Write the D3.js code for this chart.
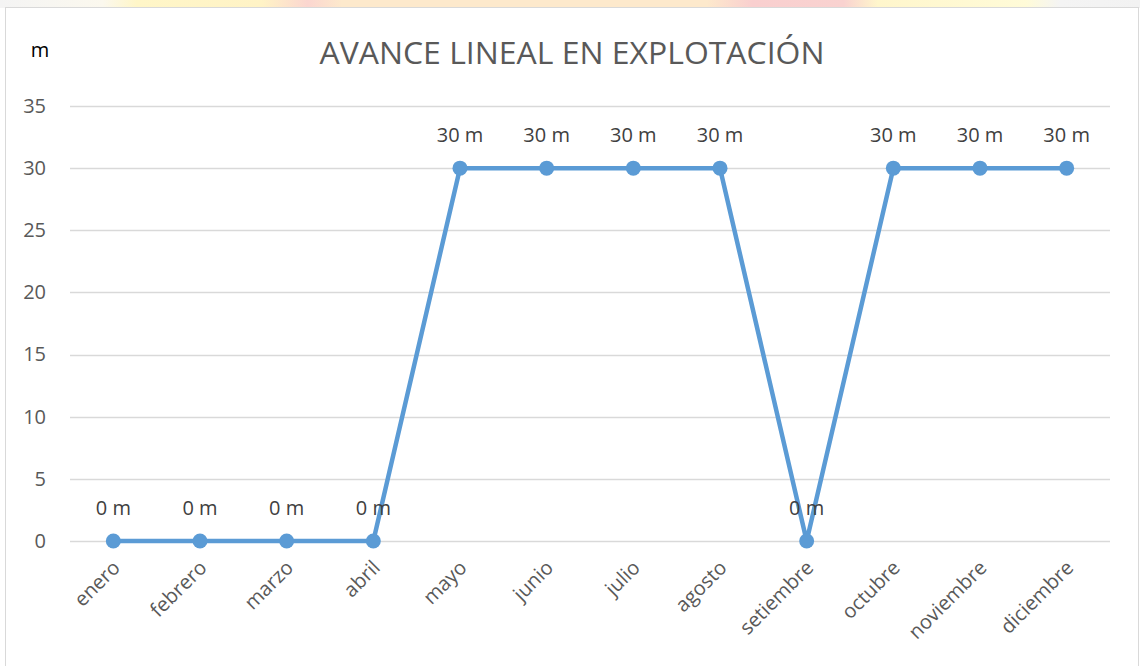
<!DOCTYPE html>
<html>
<head>
<meta charset="utf-8">
<script src="https://cdn.jsdelivr.net/npm/d3@7"></script>
<style>
  html, body { margin: 0; padding: 0; background: #fff; }
  svg { display: block; }
</style>
</head>
<body>
<svg id="chart" width="1140" height="666"></svg>
<script>
// Monthly linear advance (metres)
const months = ["enero", "febrero", "marzo", "abril", "mayo", "junio", "julio",
                "agosto", "setiembre", "octubre", "noviembre", "diciembre"];
const advance = [0, 0, 0, 0, 30, 30, 30, 30, 0, 30, 30, 30];
const yTicks = [0, 5, 10, 15, 20, 25, 30, 35];
const titleText = "AVANCE LINEAL EN EXPLOTACIÓN";
const unitText = "m";

const svg = d3.select("#chart");
const W = 1140, H = 666;
const font = "'Open Sans', 'Liberation Sans', sans-serif";

// faint band of the page behind the chart frame
const defs = svg.append("defs");
const band = defs.append("linearGradient").attr("id", "band");
[[0, "#f4f4f4"], [0.09, "#fbf8ee"], [0.12, "#fff6c8"], [0.23, "#fff3c6"], [0.27, "#fbd6d0"],
 [0.3, "#fde9cc"], [0.62, "#fde9cc"], [0.66, "#f9cfcf"], [0.74, "#f9d2d0"], [0.77, "#fff6cc"],
 [0.9, "#fffbd8"], [0.93, "#f4f4f4"], [1, "#f2f2f2"]]
  .forEach(([o, c]) => band.append("stop").attr("offset", o).attr("stop-color", c));
svg.append("rect").attr("x", 0).attr("y", 0).attr("width", W).attr("height", 8)
  .attr("fill", "url(#band)");

// chart frame
svg.append("rect").attr("x", 5.5).attr("y", 7.5).attr("width", 1133).attr("height", 680)
  .attr("fill", "#fff").attr("stroke", "#d9d9d9").attr("stroke-width", 1);

const plot = { left: 70, right: 1110, top: 106, bottom: 541 };

const x = d3.scaleBand().domain(months).range([plot.left, plot.right]);
const y = d3.scaleLinear().domain([0, 35]).range([plot.bottom, plot.top]);

// horizontal gridlines
svg.append("g").selectAll("line").data(yTicks).join("line")
  .attr("x1", plot.left).attr("x2", plot.right)
  .attr("y1", d => Math.round(y(d)) + 0.5).attr("y2", d => Math.round(y(d)) + 0.5)
  .attr("stroke", "#d9d9d9").attr("stroke-width", 1.3);

// y axis labels
const yAxis = svg.append("g").attr("transform", `translate(${plot.left},0)`)
  .call(d3.axisLeft(y).tickValues(yTicks).tickSize(0).tickPadding(24));
yAxis.select(".domain").remove();
yAxis.selectAll("text").attr("font-family", font).attr("font-size", 20)
  .attr("fill", "#595959");

// x axis labels, rotated
const xAxis = svg.append("g").attr("transform", `translate(0,${plot.bottom})`)
  .call(d3.axisBottom(x).tickSize(0).tickPadding(0));
xAxis.select(".domain").remove();
xAxis.selectAll("text")
  .attr("font-family", font).attr("font-size", 20).attr("fill", "#595959")
  .attr("text-anchor", "end")
  .attr("dy", "0.35em")
  .attr("transform", "translate(3,23) rotate(-45)");

// title and unit
svg.append("text").attr("x", 572).attr("y", 64).attr("text-anchor", "middle")
  .attr("font-family", font).attr("font-size", 31).attr("fill", "#595959")
  .attr("textLength", 505).attr("lengthAdjust", "spacingAndGlyphs")
  .text(titleText);
svg.append("text").attr("x", 40).attr("y", 57).attr("text-anchor", "middle")
  .attr("font-family", font).attr("font-size", 20).attr("fill", "#000")
  .text(unitText);

const cx = (d, i) => x(months[i]) + x.bandwidth() / 2;

// line
const line = d3.line().x((d, i) => cx(d, i)).y(d => y(d));
svg.append("path").datum(advance).attr("d", line)
  .attr("fill", "none").attr("stroke", "#5b9bd5").attr("stroke-width", 4.5)
  .attr("stroke-linejoin", "round");

// markers
svg.append("g").selectAll("circle").data(advance).join("circle")
  .attr("cx", cx).attr("cy", d => y(d)).attr("r", 7.5)
  .attr("fill", "#5b9bd5");

// value labels
svg.append("g").selectAll("text").data(advance).join("text")
  .attr("x", cx).attr("y", d => y(d) - 26)
  .attr("text-anchor", "middle")
  .attr("font-family", font).attr("font-size", 20).attr("fill", "#404040")
  .text(d => `${d} m`);
</script>
</body>
</html>
